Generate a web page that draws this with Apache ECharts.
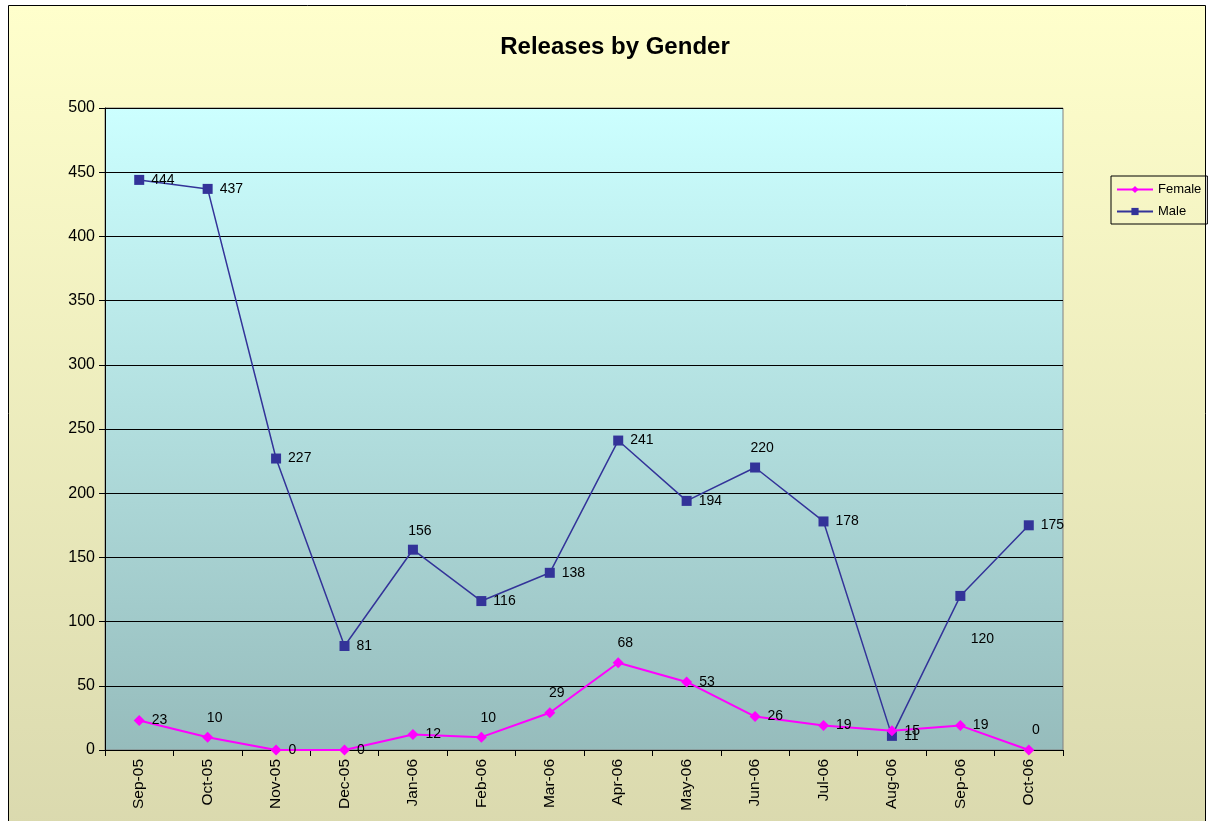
<!DOCTYPE html>
<html>
<head>
<meta charset="utf-8">
<title>Releases by Gender</title>
<script src="https://cdn.jsdelivr.net/npm/echarts@6/dist/echarts.min.js"></script>
<style>
  html, body { margin: 0; padding: 0; background: #ffffff; }
  #main { width: 1212px; height: 821px; }
</style>
</head>
<body>
<div id="main"></div>
<script>
// data
const months = ['Sep-05', 'Oct-05', 'Nov-05', 'Dec-05', 'Jan-06', 'Feb-06', 'Mar-06',
  'Apr-06', 'May-06', 'Jun-06', 'Jul-06', 'Aug-06', 'Sep-06', 'Oct-06'];
const female = [23, 10, 0, 0, 12, 10, 29, 68, 53, 26, 19, 15, 19, 0];
const male = [444, 437, 227, 81, 156, 116, 138, 241, 194, 220, 178, 11, 120, 175];

// where a label sits when it is not on the right of its point
const femaleLabelPos = { 1: 'top', 5: 'top', 6: 'top', 7: 'top', 13: 'top' };
const maleLabelPos = { 4: 'top', 9: 'top', 12: 'bottom' };

function withLabels(values, posMap) {
  return values.map(function (v, i) {
    const pos = posMap[i];
    if (!pos) return { value: v };
    return { value: v, label: { position: pos, offset: pos === 'bottom' ? [22, 24] : [7, 0] } };
  });
}

const chart = echarts.init(document.getElementById('main'));

const option = {
  backgroundColor: '#ffffff',
  animation: false,
  textStyle: { fontFamily: 'Liberation Sans, Arial, sans-serif', color: '#000' },
  graphic: [{
    type: 'rect',
    z: -10,
    shape: { x: 8.5, y: 5.5, width: 1197, height: 830 },
    style: {
      fill: new echarts.graphic.LinearGradient(0, 0, 0, 1, [
        { offset: 0, color: '#FFFFCC' },
        { offset: 1, color: '#DAD9AE' }
      ]),
      stroke: '#000',
      lineWidth: 1
    }
  }],
  title: {
    text: 'Releases by Gender',
    left: 610,
    textAlign: 'center',
    top: 30,
    textStyle: { fontSize: 24, fontWeight: 'bold', color: '#000' }
  },
  legend: {
    orient: 'vertical',
    left: 1111,
    top: 176,
    itemWidth: 36,
    itemHeight: 9,
    itemGap: 9,
    padding: [7, 6, 6, 5],
    borderColor: '#000',
    borderWidth: 1,
    textStyle: { fontSize: 13, color: '#000' },
    data: ['Female', 'Male']
  },
  grid: {
    left: 105,
    top: 108,
    width: 958,
    height: 642,
    show: true,
    borderColor: '#808080',
    borderWidth: 1,
    backgroundColor: new echarts.graphic.LinearGradient(0, 0, 0, 1, [
      { offset: 0, color: '#CCFFFF' },
      { offset: 1, color: '#96BCBC' }
    ])
  },
  xAxis: {
    type: 'category',
    data: months,
    boundaryGap: true,
    axisLine: { lineStyle: { color: '#000', width: 1 } },
    axisTick: { show: true, alignWithLabel: false, length: 6, lineStyle: { color: '#000' } },
    axisLabel: { rotate: 90, fontSize: 15.5, color: '#000', margin: 9 },
    splitLine: { show: false }
  },
  yAxis: {
    type: 'value',
    min: 0,
    max: 500,
    interval: 50,
    axisLine: { show: true, lineStyle: { color: '#000', width: 1 } },
    axisTick: { show: true, length: 6, lineStyle: { color: '#000' } },
    axisLabel: { fontSize: 16, color: '#000', margin: 10 },
    splitLine: { show: true, lineStyle: { color: '#000', width: 1 } }
  },
  series: [
    {
      name: 'Female',
      type: 'line',
      data: withLabels(female, femaleLabelPos),
      symbol: 'diamond',
      symbolSize: 11,
      color: '#FF00FF',
      lineStyle: { color: '#FF00FF', width: 2 },
      itemStyle: { color: '#FF00FF' },
      label: { show: true, position: 'right', distance: 7, fontSize: 14, color: '#000' },
      z: 3
    },
    {
      name: 'Male',
      type: 'line',
      data: withLabels(male, maleLabelPos),
      symbol: 'rect',
      symbolSize: 10,
      color: '#333399',
      lineStyle: { color: '#333399', width: 1.5 },
      itemStyle: { color: '#333399' },
      label: { show: true, position: 'right', distance: 7, fontSize: 14, color: '#000' },
      z: 2
    }
  ]
};

chart.setOption(option);
</script>
</body>
</html>
